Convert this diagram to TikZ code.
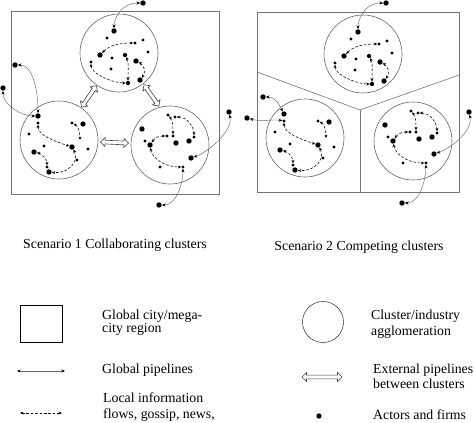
\documentclass[tikz,border=0pt]{standalone}
\usepackage{fontspec}
\setmainfont{Liberation Serif}
\usetikzlibrary{arrows.meta,shapes.arrows}

\tikzset{
  bigdot/.style={circle,fill,inner sep=0pt,minimum size=5.4pt},
  middot/.style={circle,fill,inner sep=0pt,minimum size=4.3pt},
  smalldot/.style={circle,fill,inner sep=0pt,minimum size=3.1pt},
  ring/.style={circle,draw=black!60,line width=0.6pt,inner sep=0pt,minimum size=78pt},
  region/.style={draw=black!55,line width=0.6pt},
  flow/.style={line width=0.55pt,dash pattern=on 2.6pt off 1.8pt,{Stealth[length=3.4pt,width=3pt]}-{Stealth[length=3.4pt,width=3pt]}},
  pipe/.style={draw=black!60,line width=0.45pt,{Stealth[length=3.6pt,width=3pt,black]}-{Stealth[length=3.6pt,width=3pt,black]}},
  extarrow/.style={double arrow,draw=black!75,fill=white,line width=0.6pt,inner sep=1.4pt,minimum width=9pt,double arrow head extend=2.4pt,minimum height=#1},
  legend/.style={font=\fontsize{13.8}{16}\selectfont,align=left,anchor=north west,inner sep=0pt},
  title/.style={font=\fontsize{13.8}{16}\selectfont,anchor=base,inner sep=0pt},
}

% the three kinds of cluster
\tikzset{
  clusterT/.pic={
    \node[ring] (-ring) at (0,0) {};
    \node[bigdot] (-a) at (-5,-22) {};
    \node[smalldot] (-b) at (-12,-15) {};
    \node[smalldot] (-c) at (24,-13) {};
    \node[smalldot] (-d) at (16,-10) {};
    \node[smalldot] (-e) at (29,-1) {};
    \node[bigdot] (-f) at (-19,2) {};
    \node[smalldot] (-g) at (-7,5) {};
    \node[middot] (-h) at (6,2) {};
    \node[bigdot] (-i) at (17,8) {};
    \node[smalldot] (-j) at (-28,9) {};
    \node[smalldot] (-k) at (-8,16) {};
    \node[bigdot] (-l) at (21,27) {};
    \node[middot] (-m) at (9,30) {};
    \draw[flow] (-d) .. controls +(-15,0) and +(10,-10) .. (-f);
    \draw[flow] (-j) .. controls +(0,12) and +(-15,0) .. (-m);
    \draw[flow] (-h) .. controls +(4,8) and +(0,-10) .. (-m);
    \draw[flow] (-i) .. controls +(8,4) and +(6,-8) .. (-l);
  },
  clusterL/.pic={
    \node[ring] (-ring) at (0,0) {};
    \node[bigdot] (-a) at (-21,-24) {};
    \node[smalldot] (-b) at (-21,-17) {};
    \node[smalldot] (-c) at (-30,-6) {};
    \node[smalldot] (-d) at (13,-17) {};
    \node[bigdot] (-e) at (24,-16) {};
    \coordinate (-f) at (21,0);
    \node[bigdot] (-g) at (13,7) {};
    \node[smalldot] (-h) at (29,9) {};
    \node[smalldot] (-i) at (-15,6) {};
    \node[bigdot] (-j) at (-25,12) {};
    \node[smalldot] (-k) at (18,20) {};
    \node[bigdot] (-l) at (-10,32) {};
    \node[smalldot] (-m) at (-12,27) {};
    \draw[flow] (-b) .. controls +(0,12) and +(-18,-6) .. (-g);
    \draw[flow] (-d) .. controls +(6,3) and +(0,-8) .. (-f);
    \draw[flow] (-g) .. controls +(8,15) and +(18,2) .. (-l);
    \draw[flow] (-j) .. controls +(8,2) and +(0,-8) .. (-m);
  },
  clusterR/.pic={
    \node[ring] (-ring) at (0,0) {};
    \node[smalldot] (-a) at (-2,-30) {};
    \node[smalldot] (-b) at (5,-28) {};
    \node[bigdot] (-c) at (-28,-16) {};
    \node[smalldot] (-d) at (-3,-9) {};
    \node[bigdot] (-e) at (-20,0) {};
    \node[smalldot] (-f) at (-25,-4) {};
    \node[bigdot] (-g) at (6,-2) {};
    \node[bigdot] (-h) at (19,-4) {};
    \node[smalldot] (-i) at (3,-9) {};
    \node[smalldot] (-j) at (24,-8) {};
    \node[bigdot] (-k) at (21,13) {};
    \node[smalldot] (-l) at (-10,22) {};
    \node[smalldot] (-m) at (13,22) {};
    \draw[flow] (-a) .. controls +(5,6) and +(0,-8) .. (-i);
    \draw[flow] (-b) .. controls +(12,0) and +(0,-10) .. (-j);
    \draw[flow] (-d) .. controls +(-10,0) and +(4,-6) .. (-e);
    \draw[flow] (-e) .. controls +(2,12) and +(-20,0) .. (-m);
  },
}

\begin{document}
\begin{tikzpicture}[x=1pt,y=-1pt]
	\useasboundingbox (0,0) rectangle (474,423);

	% scenario 1
	\node[region,minimum width=208pt,minimum height=183pt] (city1) at (115,102.5) {};
	\pic (T1) at (119,53) {clusterT};
	\pic (L1) at (59,140) {clusterL};
	\pic (R1) at (170,145) {clusterR};
	\path (T1-ring) -- (L1-ring) node[midway,sloped,extarrow=26pt] {};
	\path (T1-ring.-40) -- (R1-ring.115) node[pos=0.55,sloped,rotate=27,extarrow=26pt] {};
	\path (L1-ring) -- (R1-ring) node[midway,sloped,extarrow=28pt] {};
	\node[bigdot] (ext1) at (143,3) {};
	\node[bigdot] (ext2) at (15,65) {};
	\node[bigdot] (ext3) at (3,88) {};
	\node[bigdot] (ext4) at (229,112) {};
	\node[bigdot] (ext5) at (159,205) {};
	\draw[pipe] (ext1) .. controls +(-22,0) and +(0,-12) .. (T1-a);
	\draw[pipe] (ext2) .. controls +(18,0) and +(0,-25) .. (L1-a);
	\draw[pipe] (ext3) .. controls +(0,18) and +(-15,0) .. (L1-a);
	\draw[pipe] (ext4) .. controls +(4,20) and +(15,-5) .. (R1-k);
	\draw[pipe] (ext5) .. controls +(18,0) and +(0,15) .. (R1-m);

	% scenario 2
	\node[region,minimum width=202pt,minimum height=180pt] (city2) at (358,102) {};
	\coordinate (hub) at (360,110);
	\coordinate (cutL) at (257,72);
	\coordinate (cutR) at (459,75);
	\coordinate (cutB) at (360,192);
	\draw[region] (cutL) -- (hub) -- (cutR);
	\draw[region] (hub) -- (cutB);
	\pic (T2) at (363,54) {clusterT};
	\pic (L2) at (305,138) {clusterL};
	\pic (R2) at (413,141) {clusterR};
	\node[bigdot] (ext6) at (386,3) {};
	\node[bigdot] (ext7) at (263,97) {};
	\node[bigdot] (ext8) at (247,118) {};
	\node[bigdot] (ext9) at (469,112) {};
	\node[bigdot] (ext10) at (402,203) {};
	\draw[pipe] (ext6) .. controls +(-22,0) and +(0,-12) .. (T2-a);
	\draw[pipe] (ext7) .. controls +(12,0) and +(-5,-10) .. (L2-a);
	\draw[pipe] (ext8) .. controls +(15,4) and +(-12,-2) .. (L2-b);
	\draw[pipe] (ext9) .. controls +(4,20) and +(15,-5) .. (R2-k);
	\draw[pipe] (ext10) .. controls +(18,0) and +(0,15) .. (R2-m);

	\node[title] (title1) at (115,248) {Scenario 1 Collaborating clusters};
	\node[title] (title2) at (359,250) {Scenario 2 Competing clusters};

	% legend
	\node[draw,minimum width=42pt,minimum height=37pt] (lgbox) at (41,323.5) {};
	\node[legend,font=\fontsize{13.8}{10.5}\selectfont] (lgboxtext) at (102,309.5) {Global city/mega-\\city region};
	\coordinate (lgp1) at (17,371);
	\coordinate (lgp2) at (65,371);
	\draw[pipe] (lgp1) -- (lgp2);
	\node[legend,anchor=base west] (lgpipetext) at (102,373.5) {Global pipelines};
	\coordinate (lgf1) at (20,413);
	\coordinate (lgf2) at (62,413);
	\draw[flow] (lgf1) -- (lgf2);
	\node[legend] (lgflowtext) at (103,392.3) {Local information\\flows, gossip, news,};
	\node[draw,circle,minimum size=41pt] (lgring) at (323,322) {};
	\node[legend] (lgringtext) at (371,309.9) {Cluster/industry\\agglomeration};
	\node[extarrow=40pt] (lgext) at (322,377) {};
	\node[legend,font=\fontsize{13.8}{15}\selectfont] (lgexttext) at (373,363.3) {External pipelines\\between clusters};
	\node[bigdot] (lgdot) at (319,416) {};
	\node[legend,anchor=base west] (lgdottext) at (373,419) {Actors and firms};
\end{tikzpicture}
\end{document}
